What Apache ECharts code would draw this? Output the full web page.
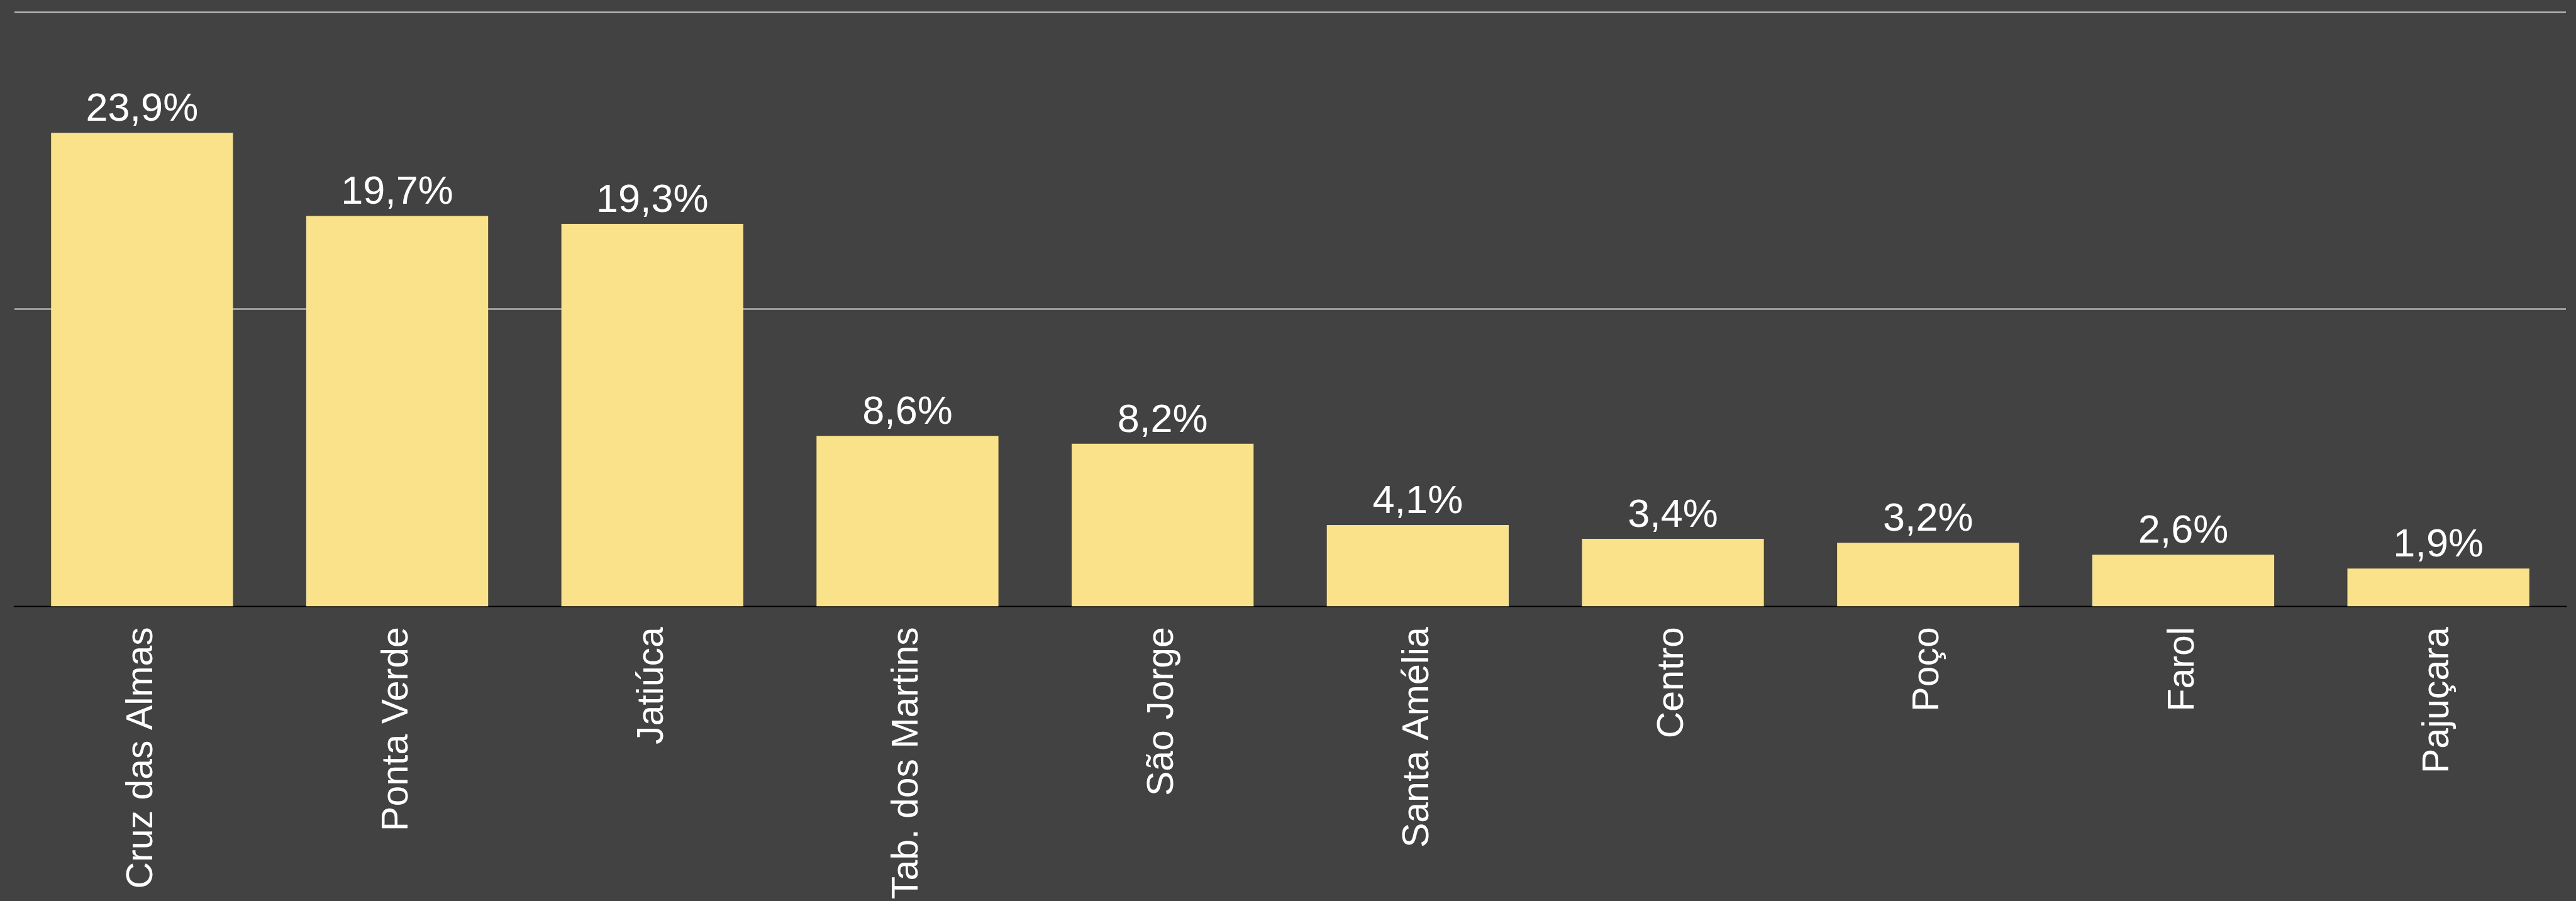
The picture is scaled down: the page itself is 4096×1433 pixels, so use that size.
<!DOCTYPE html>
<html>
<head>
<meta charset="utf-8">
<script src="https://cdn.jsdelivr.net/npm/echarts@6/dist/echarts.min.js"></script>
<style>
    html, body { margin: 0; padding: 0; background: #424242; }
    #chart { width: 4096px; height: 1433px; }
</style>
</head>
<body>
<div id="chart"></div>
<script>
var bairros = ['Cruz das Almas', 'Ponta Verde', 'Jatiúca', 'Tab. dos Martins', 'São Jorge',
    'Santa Amélia', 'Centro', 'Poço', 'Farol', 'Pajuçara'];
var percentuais = [23.9, 19.7, 19.3, 8.6, 8.2, 4.1, 3.4, 3.2, 2.6, 1.9];

var chart = echarts.init(document.getElementById('chart'));

var option = {
    backgroundColor: '#424242',
    animation: false,
    grid: {
        left: 23,
        right: 16,
        top: 19,
        bottom: 466
    },
    xAxis: {
        type: 'category',
        data: bairros,
        axisLine: { lineStyle: { color: '#000', width: 2.5 } },
        axisTick: { show: false },
        axisLabel: {
            rotate: 90,
            interval: 0,
            margin: 33,
            color: '#fff',
            fontFamily: 'Liberation Sans',
            fontSize: 59
        }
    },
    yAxis: {
        type: 'value',
        min: 0,
        max: 30,
        interval: 15,
        axisLine: { show: false },
        axisTick: { show: false },
        axisLabel: { show: false },
        splitLine: { lineStyle: { color: '#b3b3b3', width: 2.5 } }
    },
    series: [
        {
            type: 'bar',
            data: percentuais,
            barCategoryGap: '28.7%',
            itemStyle: { color: '#fae28a' },
            label: {
                show: true,
                position: 'top',
                distance: 5,
                color: '#fff',
                fontFamily: 'Liberation Sans',
                fontSize: 63,
                formatter: function (p) {
                    return p.value.toFixed(1).replace('.', ',') + '%';
                }
            }
        }
    ]
};
chart.setOption(option);
</script>
</body>
</html>
